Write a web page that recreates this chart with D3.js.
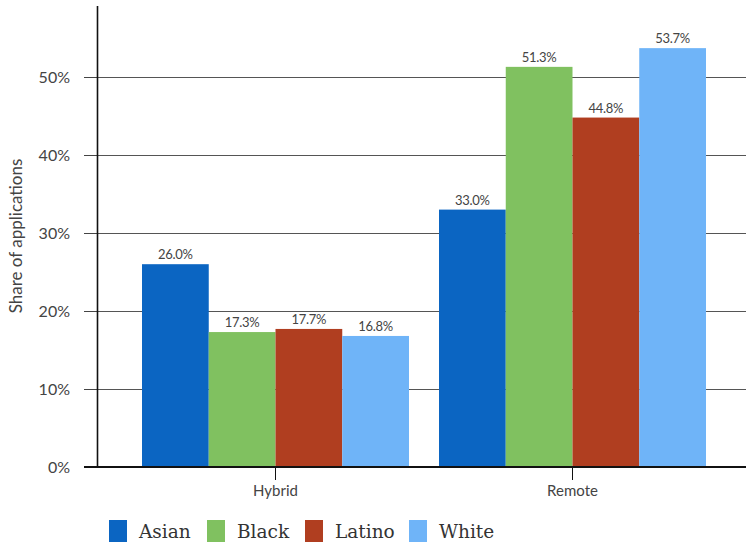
<!DOCTYPE html>
<html><head><meta charset="utf-8">
<script src="https://cdn.jsdelivr.net/npm/d3@7"></script>
<style>body{margin:0;background:#fff}svg{display:block}</style>
</head><body>
<svg id="c" width="746" height="546"></svg>
<script>
const categories = ["Hybrid", "Remote"];
const seriesNames = ["Asian", "Black", "Latino", "White"];
const seriesColors = ["#0b65c2", "#80c160", "#b03e20", "#6fb4f8"];
const asian = [26.0, 33.0];
const black = [17.3, 51.3];
const latino = [17.7, 44.8];
const white = [16.8, 53.7];
const yTicks = [0, 10, 20, 30, 40, 50];
const yLabel = "Share of applications";

const values = [asian, black, latino, white];
const svg = d3.select("#c");
const axisX = 97.5, baseY = 467, topY = 6;
const FONT = "Lato, sans-serif";
const TXT = "#444";
const y = d3.scaleLinear().domain([0, 50]).range([baseY, 77]);
const x0 = d3.scaleBand().domain(categories).range([127, 721]).paddingInner(0).paddingOuter(0);
const x1 = d3.scaleBand().domain(seriesNames).range([15, x0.bandwidth() - 15]);

// gridlines + tick labels
const yAxis = d3.axisLeft(y).tickValues(yTicks).tickFormat(d => d + "%").tickSize(axisX - 84);
const gy = svg.append("g").attr("transform", `translate(${axisX},0)`).call(yAxis);
gy.select(".domain").remove();
gy.selectAll(".tick line").attr("stroke", "#444");
gy.selectAll(".tick text").attr("x", -(axisX - 70)).attr("font-family", FONT)
  .attr("font-size", 16).attr("fill", TXT).attr("dy", "0.35em");
gy.selectAll(".tick").filter(d => d > 0).append("line")
  .attr("x1", 0).attr("x2", 746 - axisX).attr("stroke", "#555").attr("stroke-width", 1.2);

// bars
const groups = svg.append("g").selectAll("g").data(categories).join("g")
  .attr("transform", d => `translate(${x0(d)},0)`);
groups.each(function(cat, ci) {
  const g = d3.select(this);
  seriesNames.forEach((s, si) => {
    const v = values[si][ci];
    g.append("rect").attr("x", x1(s)).attr("width", x1.bandwidth())
      .attr("y", y(v)).attr("height", baseY - y(v)).attr("fill", seriesColors[si]);
    g.append("text").attr("x", x1(s) + x1.bandwidth() / 2).attr("y", y(v) - 5)
      .attr("text-anchor", "middle").attr("font-family", FONT)
      .attr("font-size", 13).attr("fill", TXT).attr("letter-spacing", "-0.3")
      .text(v.toFixed(1) + "%");
  });
});

// axes lines
svg.append("line").attr("x1", axisX).attr("x2", axisX).attr("y1", topY).attr("y2", baseY)
  .attr("stroke", "#111").attr("stroke-width", 1.6);
const xAxis = d3.axisBottom(x0).tickSize(13).tickSizeOuter(0);
const gx = svg.append("g").attr("transform", `translate(0,${baseY})`).call(xAxis);
gx.select(".domain").remove();
gx.selectAll(".tick line").attr("stroke", "#111");
gx.selectAll(".tick text").attr("y", 18).attr("font-family", FONT)
  .attr("font-size", 15).attr("fill", TXT);
svg.append("line").attr("x1", 84).attr("x2", 746).attr("y1", baseY).attr("y2", baseY)
  .attr("stroke", "#111").attr("stroke-width", 2);

// y label
svg.append("text").attr("transform", "translate(22,236) rotate(-90)")
  .attr("text-anchor", "middle").attr("font-family", FONT)
  .attr("font-size", 17).attr("fill", TXT).text(yLabel);

// legend
const legX = [109, 207, 305, 409];
const leg = svg.append("g").selectAll("g").data(seriesNames).join("g")
  .attr("transform", (d, i) => `translate(${legX[i]},520)`);
leg.append("rect").attr("width", 18).attr("height", 22).attr("fill", (d, i) => seriesColors[i]);
leg.append("text").attr("x", 30).attr("y", 18).attr("font-family", "'DejaVu Serif', serif")
  .attr("font-size", 18.5).attr("fill", "#333").text(d => d);
</script>
</body></html>
